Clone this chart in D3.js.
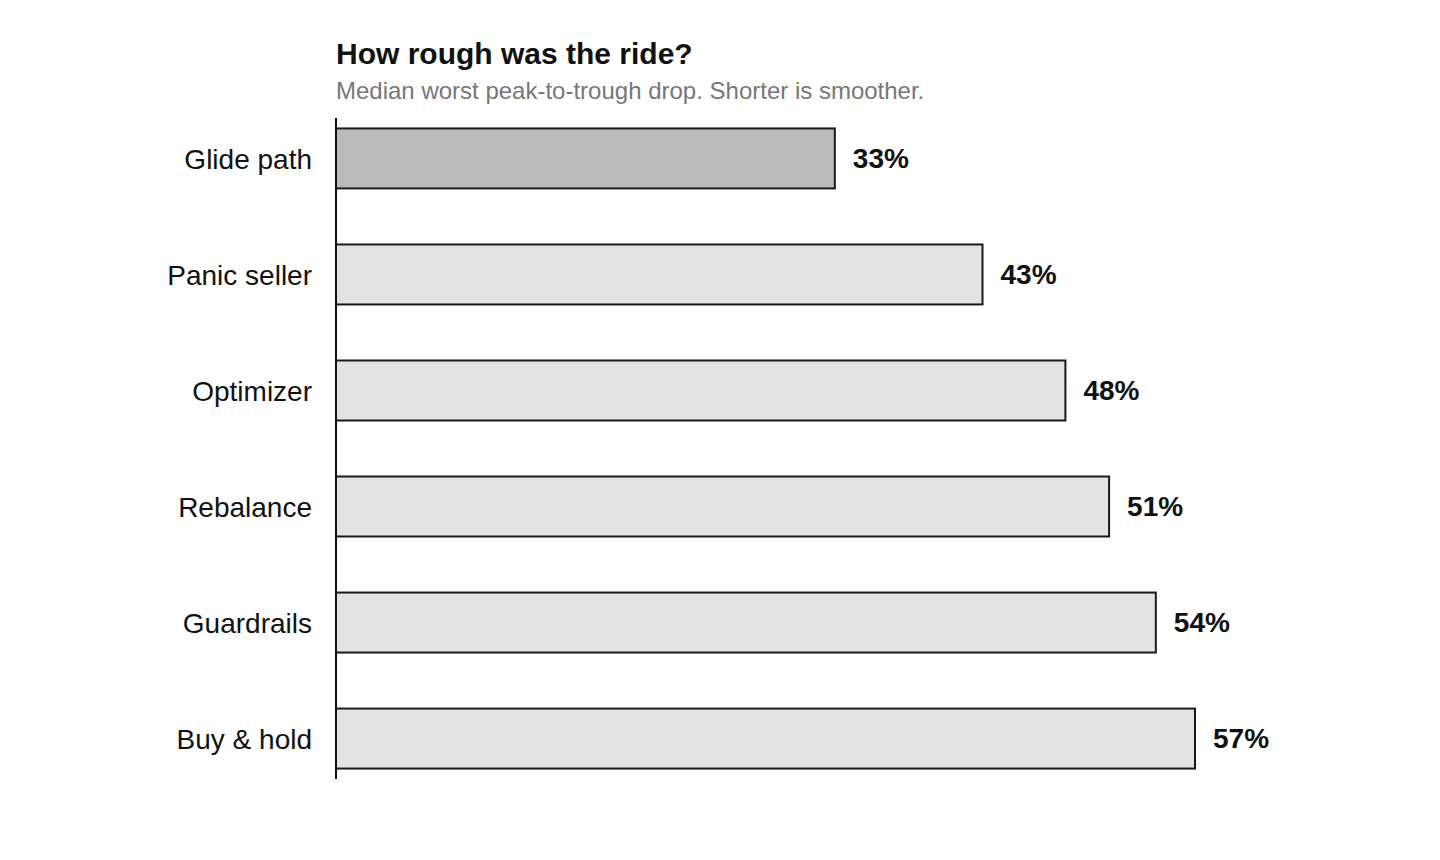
<!DOCTYPE html>
<html>
<head>
<meta charset="utf-8">
<script src="https://cdn.jsdelivr.net/npm/d3@7"></script>
<style>
  body { margin: 0; background: #fff; }
  text { font-family: "Liberation Sans", Arial, sans-serif; }
</style>
</head>
<body>
<div id="main"></div>
<script>
let strategies = ["Glide path", "Panic seller", "Optimizer", "Rebalance", "Guardrails", "Buy & hold"]
let drawdowns = [33.1, 42.9, 48.4, 51.3, 54.4, 57.0]
let highlight = "Glide path"

let margin = {top: 118, left: 336}
let plotW = 859
let plotH = 661

let svg = d3.select("#main")
	.append("svg")
		.attr("width", 1440)
		.attr("height", 860)

let x = d3.scaleLinear()
	.domain([0, 57.0])
	.range([0, plotW])

let y = d3.scaleBand()
	.domain(strategies)
	.range([0, plotH])
	.paddingInner(0.483)
	.paddingOuter(0.09)

// title + subtitle
svg.append("text")
	.attr("x", margin.left)
	.attr("y", 64)
	.style("font-size", "30px")
	.style("font-weight", "bold")
	.style("fill", "#111")
	.text("How rough was the ride?")

svg.append("text")
	.attr("x", margin.left)
	.attr("y", 99)
	.style("font-size", "24px")
	.style("fill", "#777")
	.text("Median worst peak-to-trough drop. Shorter is smoother.")

let g = svg.append("g")
	.attr("transform", `translate(${margin.left}, ${margin.top})`)

let data = strategies.map((s, i) => ({name: s, value: drawdowns[i]}))

g.selectAll("rect")
	.data(data)
	.enter()
	.append("rect")
		.attr("x", 0)
		.attr("y", d => y(d.name))
		.attr("width", d => x(d.value))
		.attr("height", y.bandwidth())
		.style("fill", d => d.name == highlight ? "#bbbbbb" : "#e3e3e3")
		.style("stroke", "#1a1a1a")
		.style("stroke-width", 2)

g.selectAll(".val")
	.data(data)
	.enter()
	.append("text")
		.attr("class", "val")
		.attr("x", d => x(d.value) + 18)
		.attr("y", d => y(d.name) + y.bandwidth() / 2)
		.attr("dy", "0.35em")
		.style("font-size", "28px")
		.style("font-weight", "bold")
		.style("fill", "#111")
		.text(d => Math.round(d.value) + "%")

// y axis: labels only, plain line
let yAxis = g.append("g")
	.call(d3.axisLeft(y).tickSize(0).tickPadding(24))

yAxis.select(".domain")
	.attr("d", `M0,0V${plotH}`)
	.style("stroke", "#111")
	.style("stroke-width", 2)

yAxis.selectAll("text")
	.attr("dy", "0.36em")
	.style("font-family", "\"Liberation Sans\", Arial, sans-serif")
	.style("font-size", "28px")
	.style("fill", "#111")
</script>
</body>
</html>
